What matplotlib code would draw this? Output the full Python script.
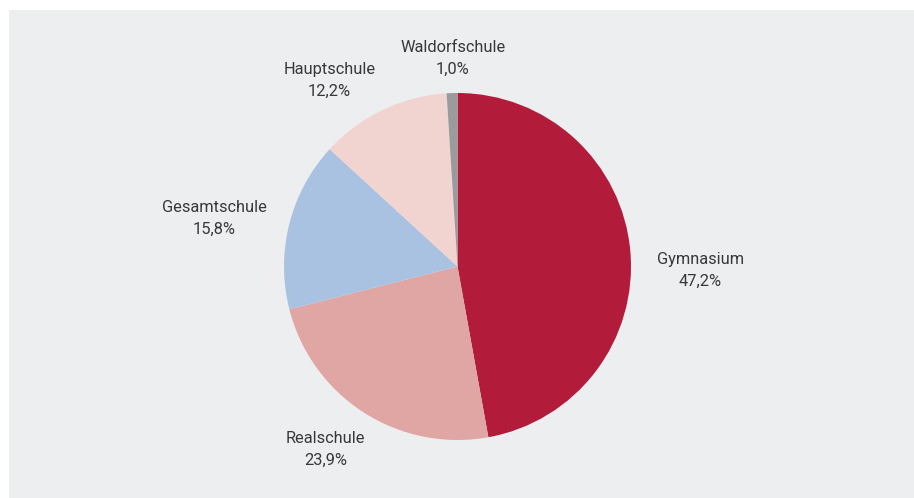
import numpy as np
import matplotlib.pyplot as plt
from matplotlib.patches import Rectangle

# Anteile der Schulformen (Prozent), im Uhrzeigersinn ab 12 Uhr
schulformen = ["Gymnasium", "Realschule", "Gesamtschule", "Hauptschule", "Waldorfschule"]
anteile = [47.2, 23.9, 15.8, 12.2, 1.0]
beschriftung = ["47,2%", "23,9%", "15,8%", "12,2%", "1,0%"]

farben = ["#B31B3A", "#E0A6A3", "#AAC2E1", "#F1D4CF", "#9A9B9D"]
# label placement: (radial factor, angle tweak in degrees)
label_pos = [(1.40, -6), (1.30, -3), (1.43, 3), (1.30, 9), (1.20, -0.5)]

W, H = 914, 498
fig = plt.figure(figsize=(W / 100, H / 100), dpi=100, facecolor="white")

# grauer Hintergrund
fig.add_artist(Rectangle((9 / W, 0), 1 - 9 / W, (H - 10) / H,
                         transform=fig.transFigure, facecolor="#EDEEF0",
                         edgecolor="none", zorder=0))

ax = fig.add_axes([0, 0, 1, 1])
ax.patch.set_alpha(0)

cx, cy, r = 457.5, 231.5, 173.5
wedges, _ = ax.pie(anteile, colors=farben, startangle=90, counterclock=False,
                   center=(cx, cy), radius=r, normalize=True,
                   wedgeprops=dict(linewidth=0))
ax.set_xlim(0, W)
ax.set_ylim(0, H)
ax.set_aspect("equal")
ax.axis("off")

for w, name, txt, (fac, tweak) in zip(wedges, schulformen, beschriftung, label_pos):
    ang = np.deg2rad((w.theta1 + w.theta2) / 2 + tweak)
    x = cx + fac * r * np.cos(ang)
    y = cy + fac * r * np.sin(ang)
    ax.text(x, y, name + "\n" + txt, ha="center", va="center",
            fontsize=11.8, color="#383838", family="Roboto", linespacing=1.55)

fig.savefig("out.png", dpi=100, facecolor="white")
